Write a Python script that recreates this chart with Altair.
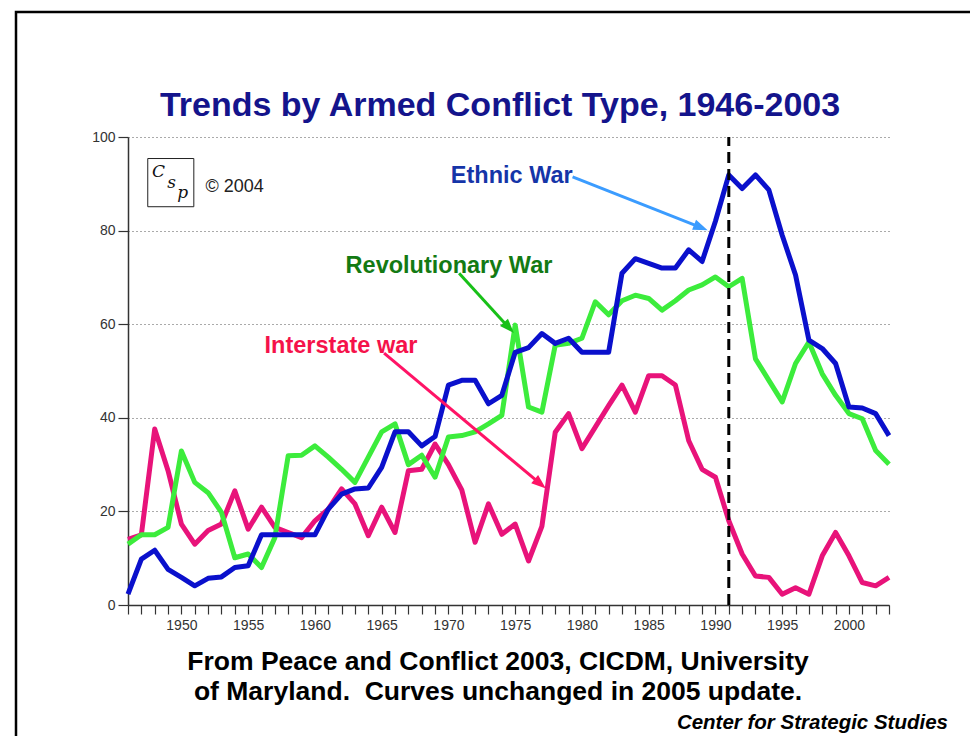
import math
import altair as alt
import pandas as pd

# ---------------- data ----------------
years = list(range(1946, 2004))

ethnic = [2.3, 9.8, 11.7, 7.6, 5.9, 4.1, 5.7, 6.0, 8.0, 8.4,
          15.0, 15.0, 15.0, 15.0, 15.0, 20.5, 23.7, 24.8, 25.0, 29.4,
          37.0, 37.0, 34.0, 36.0, 47.0, 48.0, 48.0, 43.0, 44.8, 54.0,
          55.0, 58.0, 55.9, 57.0, 54.0, 54.0, 54.0, 70.9, 74.0, 73.0,
          72.0, 72.0, 75.9, 73.4, 82.0, 91.9, 89.0, 91.9, 88.7, 79.0,
          70.5, 56.6, 54.8, 51.6, 42.3, 42.1, 40.9, 36.2]

revolutionary = [13.0, 15.0, 15.0, 16.6, 32.9, 26.2, 24.0, 19.8, 10.1, 10.9,
                 8.0, 14.4, 31.9, 32.0, 34.0, 31.6, 29.0, 26.2, 31.6, 37.0,
                 38.7, 30.0, 32.0, 27.3, 35.9, 36.2, 37.0, 38.7, 40.5, 59.8,
                 42.3, 41.2, 55.5, 55.9, 57.0, 64.8, 62.0, 65.0, 66.2, 65.5,
                 63.0, 65.0, 67.3, 68.4, 70.1, 68.0, 69.8, 52.6, 48.0, 43.4,
                 51.6, 56.2, 49.4, 44.8, 40.9, 39.8, 33.0, 30.1]

interstate = [14.0, 15.0, 37.6, 28.7, 17.3, 13.0, 15.9, 17.3, 24.4, 16.2,
              20.9, 16.6, 15.5, 14.4, 18.0, 20.5, 24.8, 21.6, 14.8, 20.9,
              15.5, 28.7, 29.0, 34.4, 30.0, 24.6, 13.4, 21.6, 15.1, 17.3,
              9.4, 16.8, 36.9, 40.9, 33.4, 38.0, 42.6, 47.0, 41.2, 49.0,
              49.0, 47.0, 35.1, 29.0, 27.3, 18.0, 10.9, 6.2, 5.9, 2.3,
              3.7, 2.3, 10.5, 15.5, 10.5, 4.8, 4.1, 5.9]

y_ticks = [0, 20, 40, 60, 80, 100]
marker_year = 1991

title_text = "Trends by Armed Conflict Type, 1946-2003"
source_line1 = "From Peace and Conflict 2003, CICDM, University"
source_line2 = "of Maryland.\u00a0 Curves unchanged in 2005 update."
credit_text = "Center for Strategic Studies"
copyright_text = "\u00a9 2004"

# annotation labels: text, year, value (label anchor), colour
label_names = ["Ethnic War", "Revolutionary War", "Interstate war"]
label_years = [1970.18, 1962.3, 1956.23]
label_values = [90.1, 70.9, 53.9]
label_colors = ["#1535a8", "#137a13", "#f5124a"]

# arrows: start (year, value) -> tip (year, value)
arrow_start_years = [1979.30, 1970.80, 1965.18]
arrow_start_values = [91.5, 70.9, 53.8]
arrow_tip_years = [1989.42, 1974.90, 1977.30]
arrow_tip_values = [80.1, 58.1, 24.9]
arrow_colors = ["#3b9cff", "#18c018", "#ff1466"]

# ---------------- layout ----------------
W, H = 761, 468
PAD_L, PAD_T = 120, 129
TOTAL_W, TOTAL_H = 962, 728
PX_YR = W / (2003 - 1946)
PX_VAL = H / 100.0

x_scale = alt.Scale(domain=[1946, 2003], nice=False, zero=False)
y_scale = alt.Scale(domain=[0, 100], nice=False, zero=False)

x_axis = alt.Axis(values=years, title=None, grid=False,
                  labelExpr="datum.value % 5 === 0 ? toString(datum.value) : ''",
                  tickSize=9, tickColor="#333333", tickWidth=1.2,
                  domainColor="#333333", domainWidth=1.5,
                  labelFont="Liberation Sans", labelFontSize=14, labelColor="#333333",
                  labelPadding=4, labelFlush=False, labelOverlap=False)
y_axis = alt.Axis(values=y_ticks, title=None, format="d", grid=True,
                  gridDash=[1, 3], gridColor="#555555", gridWidth=1,
                  tickSize=10, tickColor="#333333", tickWidth=1.2,
                  domainColor="#333333", domainWidth=1.5,
                  labelFont="Liberation Sans", labelFontSize=14, labelColor="#333333",
                  labelPadding=3)

X = alt.X("year:Q", scale=x_scale, axis=x_axis)
Y = alt.Y("value:Q", scale=y_scale, axis=y_axis)

df = pd.DataFrame({
    "year": years * 3,
    "value": interstate + revolutionary + ethnic,
    "type": ["Interstate"] * len(years) + ["Revolutionary"] * len(years) + ["Ethnic"] * len(years),
})

layers = []
for name, color in [("Interstate", "#e8137a"), ("Revolutionary", "#3cec3c"), ("Ethnic", "#0a10cc")]:
    layers.append(
        alt.Chart(df).transform_filter(alt.datum.type == name)
        .mark_line(color=color, strokeWidth=5, strokeJoin="round")
        .encode(x=X, y=Y)
    )

# vertical dashed marker
marker_df = pd.DataFrame({"year": [marker_year], "value": [0], "value2": [100]})
layers.append(
    alt.Chart(marker_df).mark_rule(color="black", strokeWidth=3, strokeDash=[11, 6])
    .encode(x=X, y=Y, y2="value2:Q")
)

# arrows
ends_y, ends_v, angles = [], [], []
for sy, sv, ty, tv in zip(arrow_start_years, arrow_start_values, arrow_tip_years, arrow_tip_values):
    dx = (ty - sy) * PX_YR
    dy = -(tv - sv) * PX_VAL  # screen down positive
    L = math.hypot(dx, dy)
    back = 9.0 / L
    ends_y.append(ty - (ty - sy) * back)
    ends_v.append(tv - (tv - sv) * back)
    angles.append(math.degrees(math.atan2(dx, -dy)))

arrow_df = pd.DataFrame({
    "year": arrow_start_years, "value": arrow_start_values,
    "year2": ends_y, "value2": ends_v, "color": arrow_colors,
})
head_df = pd.DataFrame({
    "year": arrow_tip_years, "value": arrow_tip_values,
    "angle": angles, "color": arrow_colors,
})
layers.append(
    alt.Chart(arrow_df).mark_rule(strokeWidth=3)
    .encode(x=X, y=Y, x2="year2:Q", y2="value2:Q", color=alt.Color("color:N", scale=None))
)
layers.append(
    alt.Chart(head_df).mark_point(shape="M0,0L-0.55,1.5L0.55,1.5Z", filled=True, size=380, opacity=1)
    .encode(x=X, y=Y, angle=alt.Angle("angle:Q", scale=None), color=alt.Color("color:N", scale=None))
)

# labels
label_df = pd.DataFrame({"year": label_years, "value": label_values,
                         "text": label_names, "color": label_colors})
layers.append(
    alt.Chart(label_df).mark_text(align="left", baseline="alphabetic", font="Liberation Sans",
                                  fontWeight="bold", fontSize=23.5)
    .encode(x=X, y=Y, text="text:N", color=alt.Color("color:N", scale=None))
)

# CSP logo box and copyright
logo_df = pd.DataFrame({"year": [1947.48], "year2": [1950.93], "value": [95.4], "value2": [85.1]})
layers.append(
    alt.Chart(logo_df).mark_rect(fill="white", stroke="#222222", strokeWidth=1)
    .encode(x=X, x2="year2:Q", y=Y, y2="value2:Q")
)
logo_txt = pd.DataFrame({"year": [1948.29, 1949.26, 1950.09], "value": [92.5, 90.2, 88.0],
                         "text": ["C", "s", "p"]})
layers.append(
    alt.Chart(logo_txt).mark_text(font="DejaVu Serif", fontStyle="italic", fontSize=17,
                                  baseline="middle", color="#111111")
    .encode(x=X, y=Y, text="text:N")
)
copy_df = pd.DataFrame({"year": [1951.81], "value": [88.3], "text": [copyright_text]})
layers.append(
    alt.Chart(copy_df).mark_text(font="Liberation Sans", fontSize=18, align="left",
                                 baseline="alphabetic", color="#222222")
    .encode(x=X, y=Y, text="text:N")
)

# title, source, credit and frame (decoration in pixel space)
one = pd.DataFrame({"a": [0]})
layers.append(
    alt.Chart(one).mark_rect(fillOpacity=0, stroke="black", strokeWidth=2.5)
    .encode(x=alt.value(-112), x2=alt.value(900), y=alt.value(-125), y2=alt.value(800))
)
layers.append(
    alt.Chart(one).mark_text(font="Liberation Sans", fontWeight="bold", fontSize=34,
                             color="#14148c", align="center", baseline="alphabetic")
    .encode(x=alt.value(372), y=alt.value(-21), text=alt.value(title_text))
)
layers.append(
    alt.Chart(one).mark_text(font="Liberation Sans", fontWeight="bold", fontSize=26.5,
                             color="black", align="center", baseline="alphabetic")
    .encode(x=alt.value(370), y=alt.value(533), text=alt.value(source_line1))
)
layers.append(
    alt.Chart(one).mark_text(font="Liberation Sans", fontWeight="bold", fontSize=26.5,
                             color="black", align="center", baseline="alphabetic")
    .encode(x=alt.value(370), y=alt.value(563), text=alt.value(source_line2))
)
layers.append(
    alt.Chart(one).mark_text(font="Liberation Sans", fontWeight="bold", fontStyle="italic",
                             fontSize=20.5, color="black", align="right", baseline="alphabetic")
    .encode(x=alt.value(820), y=alt.value(592), text=alt.value(credit_text))
)

chart = alt.layer(*layers).properties(
    width=W, height=H,
    autosize=alt.AutoSizeParams(type="none"),
    padding={"left": PAD_L, "top": PAD_T, "right": TOTAL_W - PAD_L - W,
             "bottom": TOTAL_H - PAD_T - H},
    background="white",
).configure_view(stroke=None)

chart.save("out.html", embed_options={"renderer": "svg", "actions": False})
